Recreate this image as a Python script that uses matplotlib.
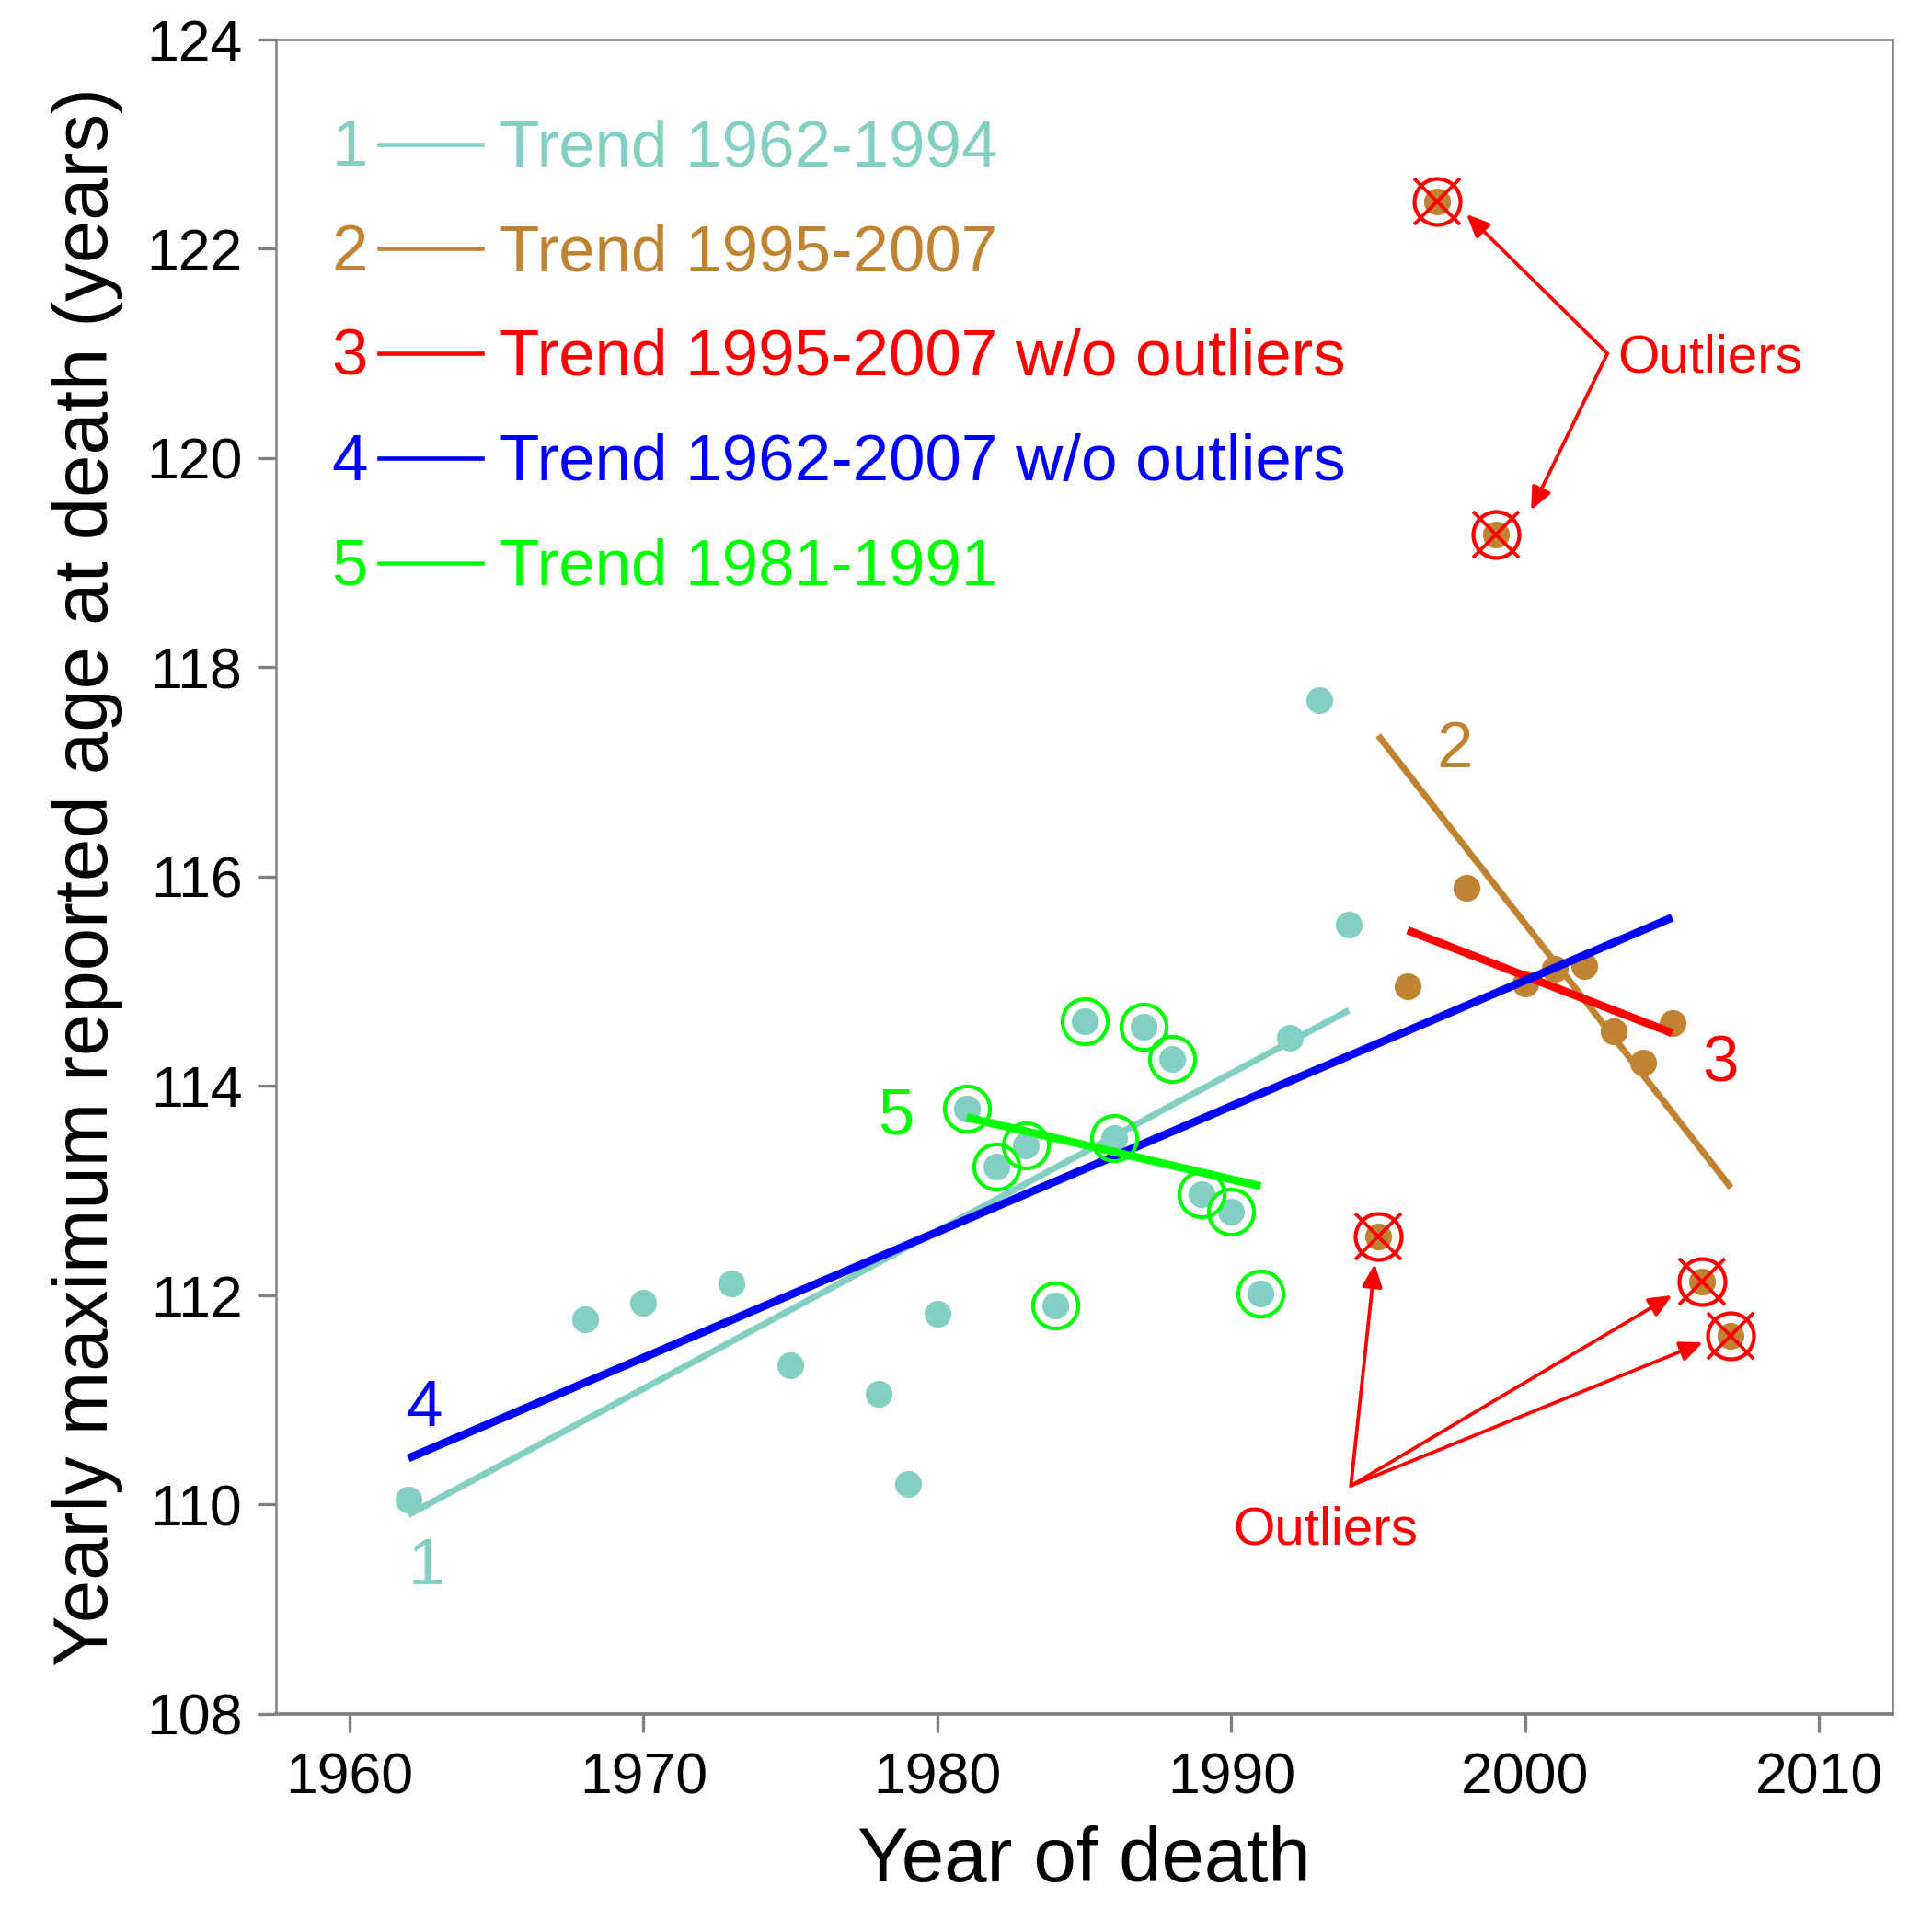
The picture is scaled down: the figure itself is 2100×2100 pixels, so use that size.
import matplotlib
matplotlib.use('Agg')
import matplotlib.pyplot as plt
import numpy as np

plt.rcParams['font.family'] = ['Liberation Sans', 'DejaVu Sans']

# yearly maximum reported age at death
years_early = [1962, 1968, 1970, 1973, 1975, 1978, 1979, 1980, 1981, 1982, 1983,
               1984, 1985, 1986, 1987, 1988, 1989, 1990, 1991, 1992, 1993, 1994]
ages_early = [110.05, 111.77, 111.93, 112.11, 111.33, 111.06, 110.20, 111.82, 113.78,
              113.23, 113.43, 111.90, 114.62, 113.50, 114.57, 114.26, 112.97, 112.80,
              112.02, 114.46, 117.69, 115.54]
years_late = [1995, 1996, 1997, 1998, 1999, 2000, 2001, 2002, 2003, 2004, 2005, 2006, 2007]
ages_late = [112.56, 114.95, 122.45, 115.89, 119.27, 114.98, 115.12, 115.15, 114.52,
             114.22, 114.60, 112.13, 111.61]

circled_years = list(range(1981, 1992))
outlier_years = [1995, 1997, 1999, 2006, 2007]

legend_labels = ['Trend 1962-1994', 'Trend 1995-2007', 'Trend 1995-2007 w/o outliers',
                 'Trend 1962-2007 w/o outliers', 'Trend 1981-1991']

c_cyan = '#84CFC3'
c_brown = '#C08332'
c_red = '#FF0000'
c_blue = '#0000FF'
c_green = '#00FF00'

all_years = np.array(years_early + years_late)
all_ages = np.array(ages_early + ages_late)
is_outlier = np.isin(all_years, outlier_years)


def fit(x, y):
    x = np.asarray(x)
    y = np.asarray(y)
    k, b = np.polyfit(x, y, 1)
    xs = np.array([x.min(), x.max()])
    return xs, k * xs + b


fig = plt.figure(figsize=(7, 7), dpi=300)
ax = fig.add_axes([0.1429, 0.1129, 0.8367, 0.8667])

# points
ax.plot(years_early, ages_early, 'o', color=c_cyan, ms=7, mew=0, zorder=2)
ax.plot(years_late, ages_late, 'o', color=c_brown, ms=7, mew=0, zorder=2)

# trend lines
sel5 = np.isin(all_years, circled_years)
sel3 = (all_years >= 1995) & ~is_outlier
trends = [
    (fit(years_early, ages_early), c_cyan, 1.7, 3),
    (fit(years_late, ages_late), c_brown, 1.7, 2),
    (fit(all_years[sel3], all_ages[sel3]), c_red, 2.1, 4),
    (fit(all_years[~is_outlier], all_ages[~is_outlier]), c_blue, 2.1, 5),
    (fit(all_years[sel5], all_ages[sel5]), c_green, 2.1, 6),
]
for (xs, ys), col, lw, z in trends:
    ax.plot(xs, ys, '-', color=col, lw=lw, solid_capstyle='butt', zorder=z)

# circles around 1981-1991 points
sel = np.isin(years_early, circled_years)
ax.plot(np.array(years_early)[sel], np.array(ages_early)[sel], 'o', ms=11.8,
        mfc='none', mec=c_green, mew=1.0, zorder=7)

# outliers
ax.plot(all_years[is_outlier], all_ages[is_outlier], 'o', ms=12,
        mfc='none', mec=c_red, mew=1.0, zorder=8)
ax.plot(all_years[is_outlier], all_ages[is_outlier], 'x', ms=12,
        color=c_red, mew=0.9, zorder=8)

# trend numbers
fs = 17
dy = -0.05
ax.text(1962.6, 109.45 + dy, '1', color=c_cyan, fontsize=fs, ha='center', va='center')
ax.text(1997.6, 117.25 + dy, '2', color=c_brown, fontsize=fs, ha='center', va='center')
ax.text(2006.65, 114.25 + dy, '3', color=c_red, fontsize=fs, ha='center', va='center')
ax.text(1962.55, 110.96 + dy, '4', color=c_blue, fontsize=fs, ha='center', va='center')
ax.text(1978.6, 113.75 + dy, '5', color=c_green, fontsize=fs, ha='center', va='center')

# legend, written by hand
leg_colors = [c_cyan, c_brown, c_red, c_blue, c_green]
for i, (lab, col) in enumerate(zip(legend_labels, leg_colors)):
    yy = 123 - i
    ax.text(1960.0, yy + dy, str(i + 1), color=col, fontsize=fs, ha='center', va='center')
    ax.plot([1961.0, 1964.5], [yy, yy], color=col, lw=1.1)
    ax.text(1965.1, yy + dy, lab, color=col, fontsize=fs, ha='left', va='center')

# outlier arrows
arr = dict(arrowstyle='-|>,head_length=0.5,head_width=0.22', color=c_red, lw=0.9,
           shrinkA=0, shrinkB=0)
ax.text(2003.15, 121.0 + dy, 'Outliers', color=c_red, fontsize=14, ha='left', va='center')
for tip in [(1998.0, 122.33), (2000.2, 119.5)]:
    ax.annotate('', xy=tip, xytext=(2002.8, 121.0), arrowprops=arr)
ax.text(1993.2, 109.8 + dy, 'Outliers', color=c_red, fontsize=14, ha='center', va='center')
for tip in [(1994.88, 112.3), (2005.0, 112.0), (2006.05, 111.55)]:
    ax.annotate('', xy=tip, xytext=(1994.07, 110.18), arrowprops=arr)

ax.set_xlim(1957.5, 2012.5)
ax.set_ylim(108, 124)
ax.set_xticks(range(1960, 2011, 10))
ax.set_yticks(range(108, 125, 2))
for s in ax.spines.values():
    s.set_color('#808080')
    s.set_linewidth(0.6)
ax.spines['bottom'].set_linewidth(0.9)
ax.tick_params(direction='out', length=4.8, width=0.8, color='#808080',
               labelsize=15, labelcolor='black')
ax.tick_params(axis='x', pad=5)
ax.tick_params(axis='y', pad=4)
ax.set_xlabel('Year of death', fontsize=20, labelpad=5)
ax.set_ylabel('Yearly maximum reported age at death (years)', fontsize=20, labelpad=6)

fig.savefig('out.png', dpi=300)
